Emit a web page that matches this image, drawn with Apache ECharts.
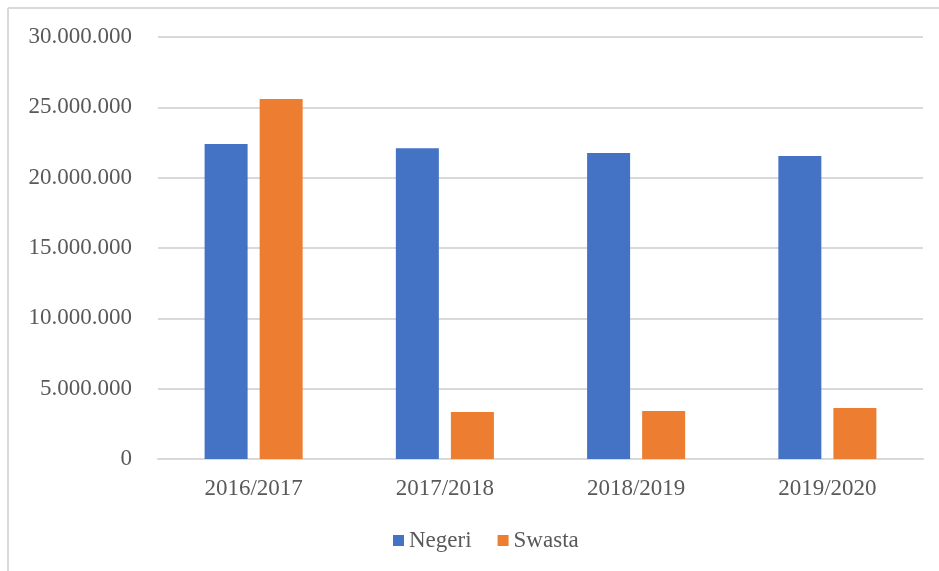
<!DOCTYPE html>
<html>
<head>
<meta charset="utf-8">
<script src="https://cdn.jsdelivr.net/npm/echarts@6/dist/echarts.min.js"></script>
<style>html,body{margin:0;padding:0;background:#fff}#c{width:939px;height:571px}</style>
</head>
<body>
<div id="c"></div>
<script>
const categories = ['2016/2017', '2017/2018', '2018/2019', '2019/2020'];
const negeri = [22390000, 22100000, 21750000, 21540000];
const swasta = [25590000, 3340000, 3420000, 3620000];
const seriesNames = ['Negeri', 'Swasta'];

const fmt = v => String(v).replace(/\B(?=(\d{3})+(?!\d))/g, '.');
const font = '"Liberation Serif", "Times New Roman", serif';
const chart = echarts.init(document.getElementById('c'));
chart.setOption({
  animation: false,
  backgroundColor: '#fff',
  textStyle: { fontFamily: font },
  graphic: [
    { type: 'line', shape: { x1: 8, y1: 8, x2: 939, y2: 8 }, style: { stroke: '#d9d9d9', lineWidth: 2 } },
    { type: 'line', shape: { x1: 8, y1: 8, x2: 8, y2: 571 }, style: { stroke: '#d9d9d9', lineWidth: 2 } }
  ],
  grid: { left: 158, right: 16, top: 37, bottom: 112 },
  legend: {
    left: 388, top: 524,
    itemWidth: 11, itemHeight: 11, itemGap: 26,
    icon: 'rect',
    textStyle: { fontFamily: font, fontSize: 23, color: '#595959' },
    data: seriesNames
  },
  xAxis: {
    type: 'category',
    data: categories,
    axisTick: { show: false },
    axisLine: { lineStyle: { color: '#d9d9d9', width: 2 } },
    axisLabel: { fontFamily: font, fontSize: 23, color: '#595959', margin: 18 }
  },
  yAxis: {
    type: 'value',
    min: 0, max: 30000000, interval: 5000000,
    axisLine: { show: false },
    axisTick: { show: false },
    splitLine: { lineStyle: { color: '#d9d9d9', width: 2 } },
    axisLabel: { fontFamily: font, fontSize: 23, color: '#595959', margin: 26, formatter: fmt }
  },
  series: [
    { name: seriesNames[0], type: 'bar', data: negeri, barWidth: 43, barGap: '28%', itemStyle: { color: '#4472C4' } },
    { name: seriesNames[1], type: 'bar', data: swasta, barWidth: 43, barGap: '28%', itemStyle: { color: '#ED7D31' } }
  ]
});
</script>
</body>
</html>
